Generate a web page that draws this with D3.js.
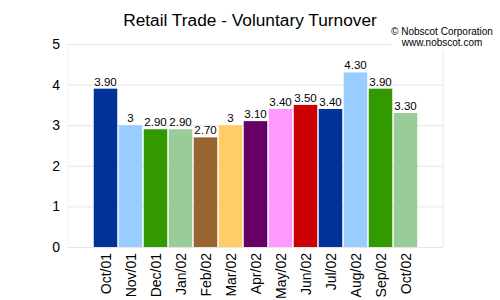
<!DOCTYPE html>
<html><head><meta charset="utf-8">
<script src="https://cdn.jsdelivr.net/npm/d3@7"></script>
<style>body{margin:0;background:#fff;}svg{display:block;font-family:"Liberation Sans",Arial,sans-serif;}</style>
</head><body><svg id="c" width="500" height="300"></svg>
<script>
const categories = ["Oct/01","Nov/01","Dec/01","Jan/02","Feb/02","Mar/02","Apr/02","May/02","Jun/02","Jul/02","Aug/02","Sep/02","Oct/02"];
const values = [3.9,3,2.9,2.9,2.7,3,3.1,3.4,3.5,3.4,4.3,3.9,3.3];
const labels = ["3.90","3","2.90","2.90","2.70","3","3.10","3.40","3.50","3.40","4.30","3.90","3.30"];
const colors = ["#003399","#99ccff","#339900","#99cc99","#996633","#ffcc66","#660066","#ff99ff","#cc0000","#003399","#99ccff","#339900","#99cc99"];
const yTicks = [0,1,2,3,4,5];

(function(){
const svg = d3.select("#c");
const pL = 68, pR = 443, pT = 44, pB = 247;
const x = d3.scaleBand().domain(categories).range([pL,pR]).paddingInner(0.06).paddingOuter(1.03);
const y = d3.scaleLinear().domain([0,5]).range([pB,pT]);

svg.append("text").attr("x",250).attr("y",26).attr("text-anchor","middle").attr("font-size",17.3).attr("fill","#000").text("Retail Trade - Voluntary Turnover");

const yAxis = svg.append("g").attr("transform",`translate(${pL},0)`)
  .call(d3.axisLeft(y).tickValues(yTicks).tickSize(-(pR-pL)).tickPadding(8).tickFormat(d3.format("d")));
yAxis.select(".domain").remove();
yAxis.selectAll(".tick line").attr("stroke","#e6e6e6");
yAxis.selectAll(".tick text").attr("font-size",14).attr("fill","#000").attr("font-family","Liberation Sans, Arial, sans-serif");
svg.append("line").attr("x1",pR).attr("x2",pR).attr("y1",pT).attr("y2",pB).attr("stroke","#e6e6e6");
svg.append("line").attr("x1",pL).attr("x2",pL).attr("y1",pT).attr("y2",pB).attr("stroke","#f2f2f2");

svg.append("rect").attr("x",391).attr("y",24).attr("width",106).attr("height",26).attr("fill","#fff");
svg.append("text").attr("x",442).attr("y",35).attr("text-anchor","middle").attr("font-size",10).text("© Nobscot Corporation");
svg.append("text").attr("x",442).attr("y",45.5).attr("text-anchor","middle").attr("font-size",10).text("www.nobscot.com");

svg.selectAll("rect.bar").data(values).enter().append("rect")
  .attr("x",(d,i)=>x(categories[i])).attr("width",x.bandwidth())
  .attr("y",d=>y(d)).attr("height",d=>pB-y(d)).attr("fill",(d,i)=>colors[i]);

svg.selectAll("text.val").data(values).enter().append("text")
  .attr("x",(d,i)=>x(categories[i])+x.bandwidth()/2).attr("y",d=>y(d)-3)
  .attr("text-anchor","middle").attr("font-size",11.5).attr("fill","#000").text((d,i)=>labels[i]);

const xAxis = svg.append("g").attr("transform",`translate(0,${pB})`).call(d3.axisBottom(x).tickSize(0));
xAxis.select(".domain").remove();
xAxis.selectAll(".tick text").attr("font-size",14).attr("fill","#000").attr("font-family","Liberation Sans, Arial, sans-serif")
  .attr("transform","rotate(-90)").attr("text-anchor","end").attr("dx","-6").attr("dy","0").attr("x",0).attr("y",0)
  .attr("dominant-baseline","central");
})();
</script></body></html>
